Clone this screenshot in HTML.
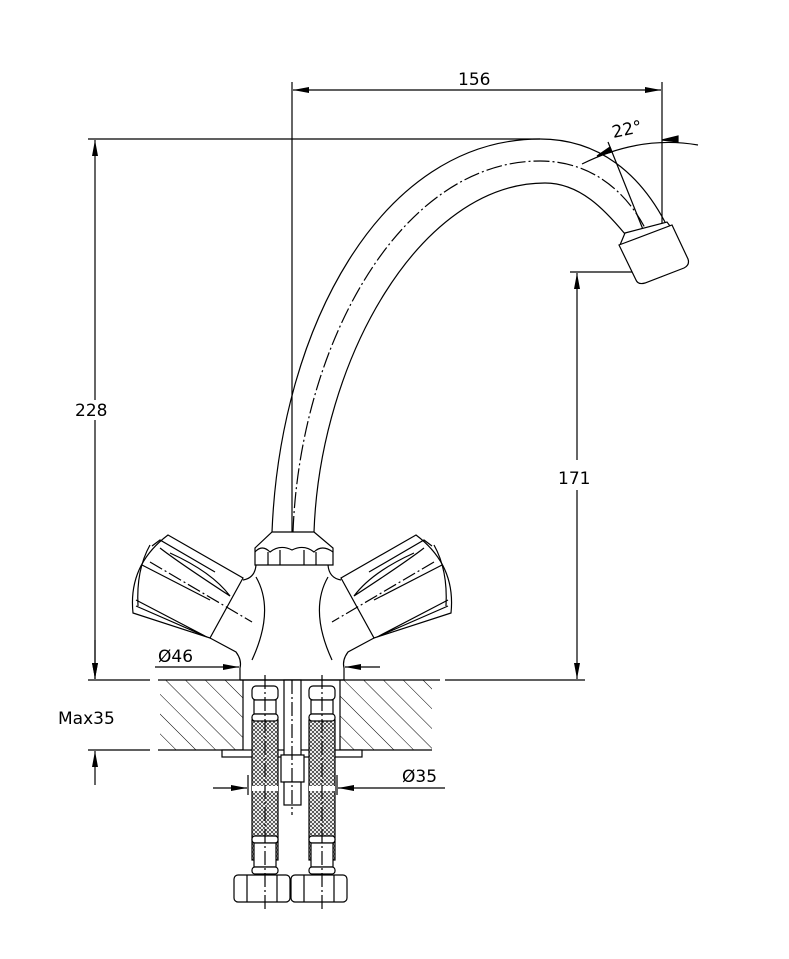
<!DOCTYPE html>
<html><head><meta charset="utf-8"><style>
html,body{margin:0;padding:0;background:#fff;}
svg{display:block}
text{font-family:"DejaVu Sans","Liberation Sans",sans-serif;font-size:17px;fill:#000}
</style></head><body>
<svg width="789" height="959" viewBox="0 0 789 959" xmlns="http://www.w3.org/2000/svg">
<defs>
<pattern id="hatch" width="14" height="14" patternUnits="userSpaceOnUse" patternTransform="rotate(-45)">
<line x1="0" y1="0" x2="0" y2="14" stroke="#000" stroke-width="1"/>
</pattern>
<pattern id="mesh" width="4" height="4" patternUnits="userSpaceOnUse">
<rect width="4" height="4" fill="#fff"/>
<path d="M0,0 L4,4 M4,0 L0,4" stroke="#000" stroke-width="0.6"/>
</pattern>
<marker id="ar" markerWidth="16" markerHeight="6" refX="16" refY="3" orient="auto" markerUnits="userSpaceOnUse">
<path d="M0,0 L16,3 L0,6 Z" fill="#000"/>
</marker>
</defs>
<g fill="none" stroke="#000" stroke-width="1.2">
<!-- 156 dimension -->
<line x1="292" y1="82" x2="292" y2="560"/>
<line x1="662" y1="82" x2="662" y2="268"/>
<line x1="330" y1="90" x2="293" y2="90" marker-end="url(#ar)"/>
<line x1="330" y1="90" x2="661" y2="90" marker-end="url(#ar)"/>
<!-- 228 -->
<line x1="88" y1="139" x2="540" y2="139"/>
<line x1="95" y1="400" x2="95" y2="140" marker-end="url(#ar)"/>
<line x1="95" y1="420" x2="95" y2="679" marker-end="url(#ar)"/>
<line x1="88" y1="680" x2="150" y2="680"/>
<!-- 171 -->
<line x1="570" y1="272" x2="655" y2="272"/>
<line x1="577" y1="460" x2="577" y2="273" marker-end="url(#ar)"/>
<line x1="577" y1="490" x2="577" y2="679" marker-end="url(#ar)"/>
<line x1="445" y1="680" x2="585" y2="680"/>
<!-- max35 -->
<line x1="88" y1="750" x2="150" y2="750"/>
<line x1="95" y1="640" x2="95" y2="679" marker-end="url(#ar)"/>
<line x1="95" y1="785" x2="95" y2="751" marker-end="url(#ar)"/>
<!-- 22 deg -->
<path d="M582,164 Q640,135 698,145"/>
<path d="M597,156 L610,147 L612,152 Z" fill="#000"/>
<path d="M662,140 L678,136 L678,142 Z" fill="#000"/>
<line x1="608" y1="142" x2="662" y2="277"/>

<!-- countertop -->
<rect x="160" y="680" width="83" height="70" fill="url(#hatch)" stroke="none"/>
<rect x="340" y="680" width="92" height="70" fill="url(#hatch)" stroke="none"/>
<line x1="158" y1="680" x2="440" y2="680"/>
<line x1="158" y1="750" x2="243" y2="750"/>
<line x1="340" y1="750" x2="432" y2="750"/>
<line x1="243" y1="680" x2="243" y2="750"/>
<line x1="340" y1="680" x2="340" y2="750"/>
<rect x="222" y="750" width="140" height="7" fill="#fff"/>

<!-- hoses -->
<g id="hose">
<rect x="252" y="720" width="26" height="140" fill="url(#mesh)" stroke="#000"/>
<rect x="252" y="786" width="26" height="5" fill="#fff" stroke="none"/>
<rect x="252" y="686" width="26" height="14" rx="4" fill="#fff"/>
<rect x="254" y="700" width="22" height="14" fill="#fff"/>
<rect x="252" y="714" width="26" height="7" rx="3" fill="#fff"/>
<rect x="252" y="836" width="26" height="7" rx="3" fill="#fff"/>
<rect x="254" y="843" width="22" height="24" fill="#fff"/>
<rect x="252" y="867" width="26" height="7" rx="3" fill="#fff"/>
<rect x="234" y="875" width="56" height="27" rx="4" fill="#fff"/>
<line x1="247" y1="875" x2="247" y2="902"/>
<line x1="277" y1="875" x2="277" y2="902"/>
<line x1="265" y1="675" x2="265" y2="910" stroke-dasharray="14,3,2,3"/>
</g>
<use href="#hose" transform="translate(57,0)"/>
<!-- stud -->
<rect x="284" y="680" width="17" height="75" fill="#fff"/>
<rect x="281" y="755" width="23" height="27" fill="#fff"/>
<rect x="284" y="782" width="17" height="23" fill="#fff"/>
<line x1="292" y1="680" x2="292" y2="815" stroke-dasharray="14,3,2,3"/>
<!-- dia 35 -->
<line x1="248" y1="775" x2="248" y2="795"/>
<line x1="337" y1="775" x2="337" y2="795"/>
<line x1="213" y1="788" x2="247" y2="788" marker-end="url(#ar)"/>
<line x1="445" y1="788" x2="338" y2="788" marker-end="url(#ar)"/>

<!-- spout -->
<path d="M272,532 C280,330 380,139 540,139 C600,139 640,175 665,222"/>
<path d="M314,532 C320,360 420,183 545,183 C580,183 605,210 625,234"/>
<path d="M293,532 C300,345 400,161 540,161 C590,161 625,190 645,228" stroke-dasharray="16,3,2,3"/>
<path d="M625,233 L667,222 L673,230 L620,245 Z" fill="#fff"/>
<path d="M619,245 L672,225 L688,259 Q690,265 684,268 L645,283 Q638,285 636,280 Z" fill="#fff"/>
<!-- nut -->
<path d="M272,532 L314,532 L333,548 L333,565 L255,565 L255,548 Z" fill="#fff"/>
<path d="M255,552 Q262,544 270,552 Q280,544 292,550 Q304,544 314,552 Q322,544 333,552"/>
<line x1="268" y1="552" x2="268" y2="565"/><line x1="280" y1="550" x2="280" y2="565"/>
<line x1="304" y1="550" x2="304" y2="565"/><line x1="316" y1="552" x2="316" y2="565"/>

<!-- body -->
<g id="half">
<path d="M256,565 Q255,578 243,580"/>
<path d="M210,638 L236,652 Q242,660 240,668 L240,680"/>
<path d="M256,577 Q275,610 252,660"/>
<path d="M168,535 L243,578 L210,638 L133,613 Q128,565 168,535 Z" fill="#fff"/>
<path d="M152,546 L160,540 L215,572"/>
<path d="M160,548 Q178,562 230,596 Q212,572 170,553"/>
<path d="M142,565 L210,600"/>
<path d="M136,600 L205,636 M136,606 L207,637"/>
<path d="M150,545 Q136,570 138,606"/>
<line x1="150" y1="562" x2="252" y2="622" stroke-dasharray="14,3,2,3"/>
</g>
<use href="#half" transform="translate(584,0) scale(-1,1)"/>
<line x1="240" y1="680" x2="344" y2="680"/>
<!-- dia 46 -->
<line x1="155" y1="667" x2="239" y2="667" marker-end="url(#ar)"/>
<line x1="380" y1="667" x2="345" y2="667" marker-end="url(#ar)"/>
</g>
<text x="458" y="85">156</text>
<text x="612" y="135" transform="rotate(-12 627 130)">22°</text>
<text x="75" y="416">228</text>
<text x="558" y="484">171</text>
<text x="158" y="662">Ø46</text>
<text x="58" y="724">Max35</text>
<text x="402" y="782">Ø35</text>
</svg>
</body></html>
